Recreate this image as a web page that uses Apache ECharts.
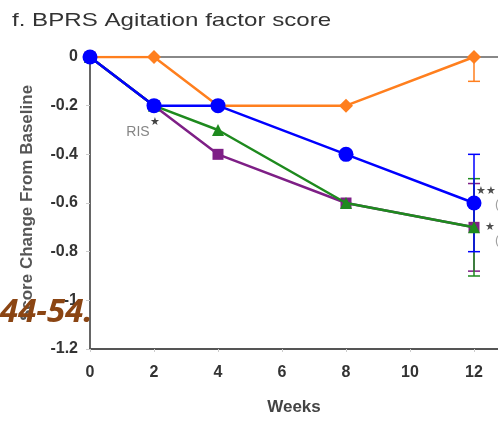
<!DOCTYPE html>
<html>
<head>
<meta charset="utf-8">
<script src="https://cdn.jsdelivr.net/npm/echarts@6/dist/echarts.min.js"></script>
<style>
  html, body { margin: 0; padding: 0; background: #fff; overflow: hidden; }
  #chart { width: 498px; height: 421px; }
</style>
</head>
<body>
<div id="chart"></div>
<script>
// Study visits (weeks) and mean change from baseline per treatment arm
const weeks = [0, 2, 4, 8, 12];
const orangeArm = [0, 0, -0.2, -0.2, 0];
const purpleArm = [0, -0.2, -0.4, -0.6, -0.7];
const greenArm  = [0, -0.2, -0.3, -0.6, -0.7];
const blueArm   = [0, -0.2, -0.2, -0.4, -0.6];

// Error bars shown at the final visit: [week, mean, halfWidth]
const orangeErr = [[12, 0, 0.1]];
const purpleErr = [[12, -0.7, 0.18]];
const greenErr  = [[12, -0.7, 0.2]];
const blueErr   = [[12, -0.6, 0.2]];

// Axis ticks
const xTicks = [0, 2, 4, 6, 8, 10, 12];
const yTicks = [0, -0.2, -0.4, -0.6, -0.8, -1, -1.2];

// Text notes placed in data coordinates: [week, value, text, size, colour]
const notes = [
  [1.5, -0.31, 'RIS', 14, '#666'],
  [2.03, -0.268, '\u2605', 11, '#111'],
  [12.38, -0.55, '\u2605\u2605', 11, '#222'],
  [12.5, -0.70, '\u2605', 11, '#222'],
  [12.72, -0.605, '(', 13, '#888'],
  [12.72, -0.755, '(', 13, '#888']
];

const COLORS = {
  orange: '#FF7F1E',
  purple: '#7E1F86',
  green: '#1E8A1E',
  blue: '#0000FF'
};

function pairs(ys) { return weeks.map((w, i) => [w, ys[i]]); }

function lineSeries(ys, color, symbol, size, z) {
  return {
    type: 'line',
    data: pairs(ys),
    symbol: symbol,
    symbolSize: size,
    showAllSymbol: true,
    lineStyle: { color: color, width: 2.5 },
    itemStyle: { color: color, borderWidth: 0 },
    z: z,
    animation: false
  };
}

function errSeries(list, color, z) {
  return {
    type: 'custom',
    data: list,
    clip: true,
    z: z,
    animation: false,
    renderItem: function (params, api) {
      const x = api.value(0), m = api.value(1), h = api.value(2);
      const top = api.coord([x, m + h]);
      const bot = api.coord([x, m - h]);
      const cap = 6;
      const style = { stroke: color, lineWidth: 1.5 };
      return {
        type: 'group',
        children: [
          { type: 'line', shape: { x1: top[0], y1: top[1], x2: bot[0], y2: bot[1] }, style: style },
          { type: 'line', shape: { x1: top[0] - cap, y1: top[1], x2: top[0] + cap, y2: top[1] }, style: style },
          { type: 'line', shape: { x1: bot[0] - cap, y1: bot[1], x2: bot[0] + cap, y2: bot[1] }, style: style }
        ]
      };
    }
  };
}

const chart = echarts.init(document.getElementById('chart'), null, { renderer: 'canvas' });

const option = {
  backgroundColor: '#fff',
  animation: false,
  grid: { left: 90, right: 0, top: 57, bottom: 72, containLabel: false, outerBoundsMode: 'none' },
  xAxis: [{
    type: 'value',
    min: 0,
    max: 12.75,
    interval: 2,
    position: 'bottom',
    name: 'Weeks',
    nameLocation: 'middle',
    nameGap: 50,
    nameTextStyle: { fontFamily: 'Liberation Sans', fontSize: 17, fontWeight: 'bold', color: '#444' },
    axisLine: { onZero: false, lineStyle: { color: '#555', width: 2 } },
    axisTick: { show: true, length: 3, lineStyle: { color: '#ccc' } },
    splitLine: { show: false },
    axisLabel: {
      margin: 16,
      fontFamily: 'Liberation Sans',
      fontSize: 16,
      fontWeight: 'bold',
      color: '#333',
      showMaxLabel: false,
      formatter: function (v) { return xTicks.indexOf(v) >= 0 ? String(v) : ''; }
    }
  }, {
    type: 'value',
    min: 0,
    max: 12.75,
    position: 'top',
    axisLine: { onZero: false, lineStyle: { color: '#888', width: 2 } },
    axisTick: { show: false },
    axisLabel: { show: false },
    splitLine: { show: false }
  }],
  yAxis: {
    type: 'value',
    min: -1.2,
    max: 0,
    interval: 0.2,
    name: 'Score Change From Baseline',
    nameLocation: 'middle',
    nameGap: 54,
    nameTextStyle: { fontFamily: 'Liberation Sans', fontSize: 17, fontWeight: 'bold', color: '#555' },
    axisLine: { show: true, onZero: false, lineStyle: { color: '#666', width: 2 } },
    axisTick: { show: true, length: 4, lineStyle: { color: '#ccc' } },
    splitLine: { show: false },
    axisLabel: {
      margin: 12,
      fontFamily: 'Liberation Sans',
      fontSize: 16,
      fontWeight: 'bold',
      color: '#333',
      formatter: function (v) {
        const r = Math.round(v * 10) / 10;
        return yTicks.indexOf(r) >= 0 ? (r === 0 ? '0' : String(r)) : '';
      }
    }
  },
  series: [
    errSeries(orangeErr, COLORS.orange, 1),
    errSeries(purpleErr, COLORS.purple, 1),
    errSeries(greenErr, COLORS.green, 1),
    errSeries(blueErr, COLORS.blue, 1),
    lineSeries(orangeArm, COLORS.orange, 'diamond', 14, 2),
    lineSeries(purpleArm, COLORS.purple, 'rect', 11, 3),
    lineSeries(greenArm, COLORS.green, 'triangle', 12, 4),
    lineSeries(blueArm, COLORS.blue, 'circle', 15, 5),
    {
      type: 'scatter',
      symbolSize: 0,
      silent: true,
      clip: false,
      z: 6,
      animation: false,
      label: {
        show: true,
        position: 'inside',
        fontFamily: 'Liberation Sans',
        formatter: function (p) { return p.value[2]; }
      },
      itemStyle: { color: 'transparent' },
      data: notes.map(n => ({
        value: [n[0], n[1], n[2]],
        label: { fontSize: n[3], color: n[4] }
      }))
    }
  ],
  graphic: [{
    // chart title, set a little wider than the regular face
    type: 'text',
    x: 12,
    y: 11,
    scaleX: 1.27,
    z: 100,
    style: {
      text: 'f. BPRS Agitation factor score',
      fontFamily: 'Liberation Sans',
      fontSize: 19,
      fill: '#333',
      textVerticalAlign: 'top'
    }
  }, {
    type: 'text',
    x: 0,
    y: 296,
    z: 100,
    style: {
      text: '44-54.',
      fontFamily: 'Open Sans',
      fontSize: 33,
      fontWeight: 'bold',
      fontStyle: 'italic',
      fill: '#8B4513',
      textVerticalAlign: 'top'
    }
  }]
};

chart.setOption(option);
</script>
</body>
</html>
